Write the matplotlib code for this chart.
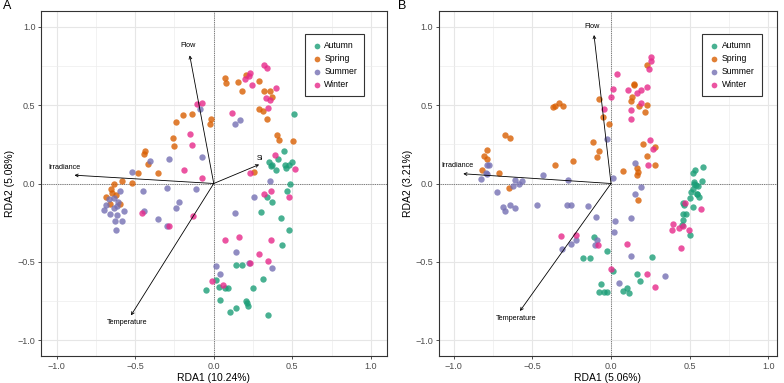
import matplotlib as mpl

mpl.use("Agg")

import matplotlib.pyplot as plt
from matplotlib.ticker import MultipleLocator

plt.rcParams["font.family"] = ["Liberation Sans", "DejaVu Sans"]

IMAGE_DPI = 100.0
WIDTH, HEIGHT = 784, 383

SEASONS = ["Autumn", "Spring", "Summer", "Winter"]
COLORS = ["#1B9E77", "#D95F02", "#7570B3", "#E7298A"]

# ---- panel A ----
a_autumn = [
    (0.510, 0.442), (0.450, 0.208), (0.412, 0.159), (0.352, 0.134), (0.373, 0.117),
    (0.365, 0.112), (0.395, 0.085), (0.454, 0.117), (0.463, 0.096), (0.480, 0.117),
    (0.501, 0.138), (0.484, 0.0), (0.467, -0.047), (0.340, -0.089), (0.374, -0.121),
    (0.301, -0.180), (0.429, -0.219), (0.476, -0.295), (0.437, -0.389), (0.144, -0.520),
    (0.178, -0.518), (0.314, -0.609), (0.251, -0.665), (0.034, -0.662), (0.072, -0.669),
    (0.089, -0.667), (0.013, -0.618), (-0.047, -0.682), (0.042, -0.745), (0.208, -0.749),
    (0.212, -0.764), (0.221, -0.781), (0.140, -0.794), (0.106, -0.817), (0.344, -0.841),
]
a_spring = [
    (0.072, 0.675), (0.076, 0.639), (0.157, 0.645), (0.183, 0.592), (0.204, 0.694),
    (0.285, 0.654), (0.323, 0.588), (0.357, 0.592), (0.374, 0.554), (0.289, 0.478),
    (0.314, 0.463), (0.340, 0.414), (0.403, 0.308), (0.416, 0.276), (0.505, 0.270),
    (0.259, 0.074), (-0.017, 0.410), (-0.025, 0.380), (-0.140, 0.444), (-0.195, 0.437),
    (-0.242, 0.389), (-0.259, 0.291), (-0.251, 0.242), (-0.437, 0.208), (-0.446, 0.189),
    (-0.420, 0.127), (-0.352, 0.070), (-0.480, 0.068), (-0.582, 0.017), (-0.522, 0.002),
    (-0.637, -0.002), (-0.654, -0.032), (-0.646, -0.059), (-0.624, -0.072), (-0.688, -0.089),
    (-0.662, -0.130), (-0.594, -0.132),
]
a_summer = [
    (-0.089, 0.478), (-0.072, 0.172), (-0.285, 0.157), (-0.403, 0.146), (-0.518, 0.076),
    (0.170, 0.403), (0.136, 0.380), (0.357, 0.013), (-0.450, -0.047), (-0.297, -0.030),
    (-0.115, -0.034), (-0.594, -0.047), (0.259, -0.085), (-0.667, -0.102), (-0.688, -0.140),
    (-0.701, -0.170), (-0.637, -0.155), (-0.616, -0.144), (-0.607, -0.119), (-0.637, -0.091),
    (-0.658, -0.195), (-0.616, -0.200), (-0.573, -0.178), (-0.628, -0.238), (-0.582, -0.236),
    (-0.620, -0.297), (-0.442, -0.174), (-0.352, -0.225), (-0.297, -0.270), (-0.238, -0.155),
    (-0.221, -0.119), (0.136, -0.191), (0.144, -0.439), (0.013, -0.527), (0.038, -0.580),
    (0.225, -0.505), (0.369, -0.541),
]
a_winter = [
    (0.323, 0.758), (0.336, 0.735), (0.234, 0.705), (0.225, 0.686), (0.200, 0.667),
    (0.242, 0.628), (0.395, 0.607), (0.331, 0.548), (0.357, 0.535), (0.344, 0.482),
    (0.115, 0.448), (-0.106, 0.505), (-0.076, 0.514), (-0.149, 0.318), (-0.140, 0.248),
    (-0.187, 0.087), (-0.072, 0.034), (0.391, 0.183), (0.518, 0.091), (0.234, 0.066),
    (0.318, -0.064), (0.365, -0.047), (0.480, -0.089), (-0.459, -0.187), (-0.132, -0.210),
    (-0.285, -0.272), (0.072, -0.363), (0.161, -0.338), (0.365, -0.363), (0.285, -0.450),
    (0.348, -0.495), (0.234, -0.507), (-0.008, -0.624), (0.059, -0.650),
]
a_arrows = ["Flow", "Irradiance", "Si", "Temperature"]
a_arrow_tips = [(-0.153, 0.817), (-0.887, 0.053), (0.289, 0.121), (-0.527, -0.841)]
a_label_pos = [(-0.163, 0.883), (-0.949, 0.102), (0.293, 0.161), (-0.552, -0.887)]

# ---- panel B ----
b_autumn = [
    (0.586, 0.106), (0.535, 0.089), (0.519, 0.064), (0.578, 0.019), (0.527, 0.011),
    (0.540, -0.011), (0.523, -0.038), (0.548, -0.064), (0.510, -0.057), (0.502, -0.091),
    (0.557, -0.089), (0.527, 0.0), (0.552, -0.013), (0.544, -0.070), (0.455, -0.123),
    (0.463, -0.134), (0.518, -0.149), (0.459, -0.193), (0.476, -0.197), (0.455, -0.234),
    (0.451, -0.265), (0.502, -0.331), (-0.108, -0.342), (-0.028, -0.431), (-0.180, -0.473),
    (-0.133, -0.473), (0.260, -0.471), (0.163, -0.578), (0.184, -0.622), (0.015, -0.558),
    (-0.066, -0.641), (-0.074, -0.690), (-0.044, -0.694), (-0.028, -0.694), (0.074, -0.688),
    (0.104, -0.669), (0.112, -0.696),
]
b_spring = [
    (0.226, 0.756), (0.146, 0.637), (0.146, 0.630), (0.133, 0.552), (0.125, 0.524),
    (0.176, 0.493), (0.231, 0.499), (0.214, 0.459), (-0.078, 0.539), (-0.370, 0.488),
    (-0.358, 0.497), (-0.328, 0.516), (-0.303, 0.493), (-0.049, 0.425), (-0.011, 0.378),
    (-0.675, 0.310), (-0.641, 0.293), (-0.116, 0.265), (-0.078, 0.210), (-0.087, 0.168),
    (-0.243, 0.144), (-0.358, 0.117), (0.201, 0.255), (0.281, 0.234), (0.231, 0.178),
    (0.277, 0.115), (0.167, 0.098), (0.171, 0.076), (0.163, 0.057), (0.074, 0.079),
    (-0.789, 0.214), (-0.806, 0.176), (-0.789, 0.157), (-0.819, 0.083), (-0.709, 0.064),
    (-0.646, -0.028), (0.171, -0.108),
]
b_summer = [
    (-0.028, 0.284), (0.011, 0.034), (0.154, 0.132), (-0.789, 0.119), (-0.776, 0.121),
    (-0.794, 0.064), (-0.785, 0.062), (-0.823, 0.028), (-0.430, 0.055), (-0.273, 0.021),
    (-0.607, 0.021), (-0.565, 0.019), (-0.586, -0.006), (-0.624, -0.015), (-0.722, -0.052),
    (0.154, -0.065), (0.193, -0.024), (-0.688, -0.149), (-0.671, -0.174), (-0.641, -0.138),
    (-0.612, -0.157), (-0.472, -0.134), (-0.277, -0.138), (-0.256, -0.138), (-0.146, -0.142),
    (-0.095, -0.212), (0.028, -0.242), (0.019, -0.312), (0.129, -0.223), (-0.222, -0.359),
    (-0.256, -0.386), (-0.311, -0.416), (-0.091, -0.361), (-0.099, -0.393), (0.129, -0.463),
    (0.053, -0.633), (0.345, -0.588),
]
b_winter = [
    (0.252, 0.809), (0.256, 0.783), (0.040, 0.699), (0.239, 0.728), (0.011, 0.603),
    (0.108, 0.594), (0.188, 0.599), (0.167, 0.577), (0.231, 0.618), (0.002, 0.550),
    (0.188, 0.514), (-0.044, 0.478), (0.125, 0.469), (0.125, 0.410), (0.248, 0.280),
    (0.269, 0.219), (0.235, 0.115), (0.472, -0.123), (0.573, -0.161), (0.392, -0.261),
    (0.387, -0.299), (0.434, -0.282), (0.455, -0.272), (0.497, -0.295), (0.447, -0.410),
    (-0.315, -0.335), (-0.222, -0.331), (-0.083, -0.395), (0.104, -0.384), (0.002, -0.548),
    (0.226, -0.580), (0.277, -0.660),
]
b_arrows = ["Flow", "Irradiance", "Temperature"]
b_arrow_tips = [(-0.108, 0.947), (-0.938, 0.062), (-0.578, -0.813)]
b_label_pos = [(-0.121, 1.004), (-0.974, 0.113), (-0.603, -0.858)]


def px_axes(fig, left, top, right, bottom):
    return fig.add_axes(
        [left / WIDTH, 1 - bottom / HEIGHT, (right - left) / WIDTH, (bottom - top) / HEIGHT]
    )


def plot_panel(ax, groups, arrows, tips, label_pos, xlabel, ylabel, xlim, legend_x):
    ax.set_xlim(xlim)
    ax.set_ylim(-1.1, 1.1)
    ax.xaxis.set_major_locator(MultipleLocator(0.5))
    ax.yaxis.set_major_locator(MultipleLocator(0.5))
    ax.xaxis.set_minor_locator(MultipleLocator(0.25))
    ax.yaxis.set_minor_locator(MultipleLocator(0.25))
    ax.grid(which="major", color="#E6E6E6", linewidth=0.8, zorder=0)
    ax.grid(which="minor", color="#EDEDED", linewidth=0.5, zorder=0)
    ax.set_axisbelow(True)
    ax.tick_params(which="minor", length=0)
    ax.tick_params(which="major", length=2.5, width=0.6, color="#333333",
                   labelsize=6.5, labelcolor="#4D4D4D", pad=1.5)
    for sp in ax.spines.values():
        sp.set_color("#333333")
        sp.set_linewidth(0.8)

    ax.axhline(0, color="#555555", linestyle=(0, (1, 1.2)), linewidth=0.6, zorder=1)
    ax.axvline(0, color="#555555", linestyle=(0, (1, 1.2)), linewidth=0.6, zorder=1)

    for name, color, pts in zip(SEASONS, COLORS, groups):
        xs = [p[0] for p in pts]
        ys = [p[1] for p in pts]
        ax.scatter(xs, ys, s=21, color=color, alpha=0.8, linewidths=0, label=name, zorder=2)

    for name, tip, lp in zip(arrows, tips, label_pos):
        ax.annotate(
            "", xy=tip, xytext=(0, 0),
            arrowprops=dict(arrowstyle="->", color="black", lw=0.6,
                            shrinkA=0, shrinkB=0, mutation_scale=5),
            zorder=3,
        )
        ax.text(lp[0], lp[1], name, fontsize=5.2, ha="center", va="center", zorder=3)

    ax.set_xlabel(xlabel, fontsize=7.5, labelpad=2)
    ax.set_ylabel(ylabel, fontsize=7.5, labelpad=2)

    leg = ax.legend(
        loc="upper left", bbox_to_anchor=(legend_x, 0.932), borderaxespad=0,
        fontsize=6.2, frameon=True, fancybox=False, framealpha=1,
        edgecolor="#333333", handletextpad=0.3, handlelength=1.2,
        labelspacing=0.45, borderpad=0.8, markerscale=0.9,
    )
    leg.get_frame().set_linewidth(0.8)
    for h in leg.legend_handles:
        h.set_alpha(0.8)


fig = plt.figure(figsize=(WIDTH / IMAGE_DPI, HEIGHT / IMAGE_DPI), dpi=IMAGE_DPI, facecolor="white")

ax_a = px_axes(fig, 41, 11, 386.5, 356)
plot_panel(ax_a, [a_autumn, a_spring, a_summer, a_winter], a_arrows, a_arrow_tips, a_label_pos,
           "RDA1 (10.24%)", "RDA2 (5.08%)", (-1.1, 1.1), 0.763)

ax_b = px_axes(fig, 438.7, 11, 777, 356)
plot_panel(ax_b, [b_autumn, b_spring, b_summer, b_winter], b_arrows, b_arrow_tips, b_label_pos,
           "RDA1 (5.06%)", "RDA2 (3.21%)", (-1.094, 1.054), 0.779)

fig.text(3 / WIDTH, 1 - 6 / HEIGHT, "A", fontsize=9, ha="left", va="center")
fig.text(398 / WIDTH, 1 - 6 / HEIGHT, "B", fontsize=9, ha="left", va="center")

fig.savefig("out.png", dpi=IMAGE_DPI, facecolor="white")
